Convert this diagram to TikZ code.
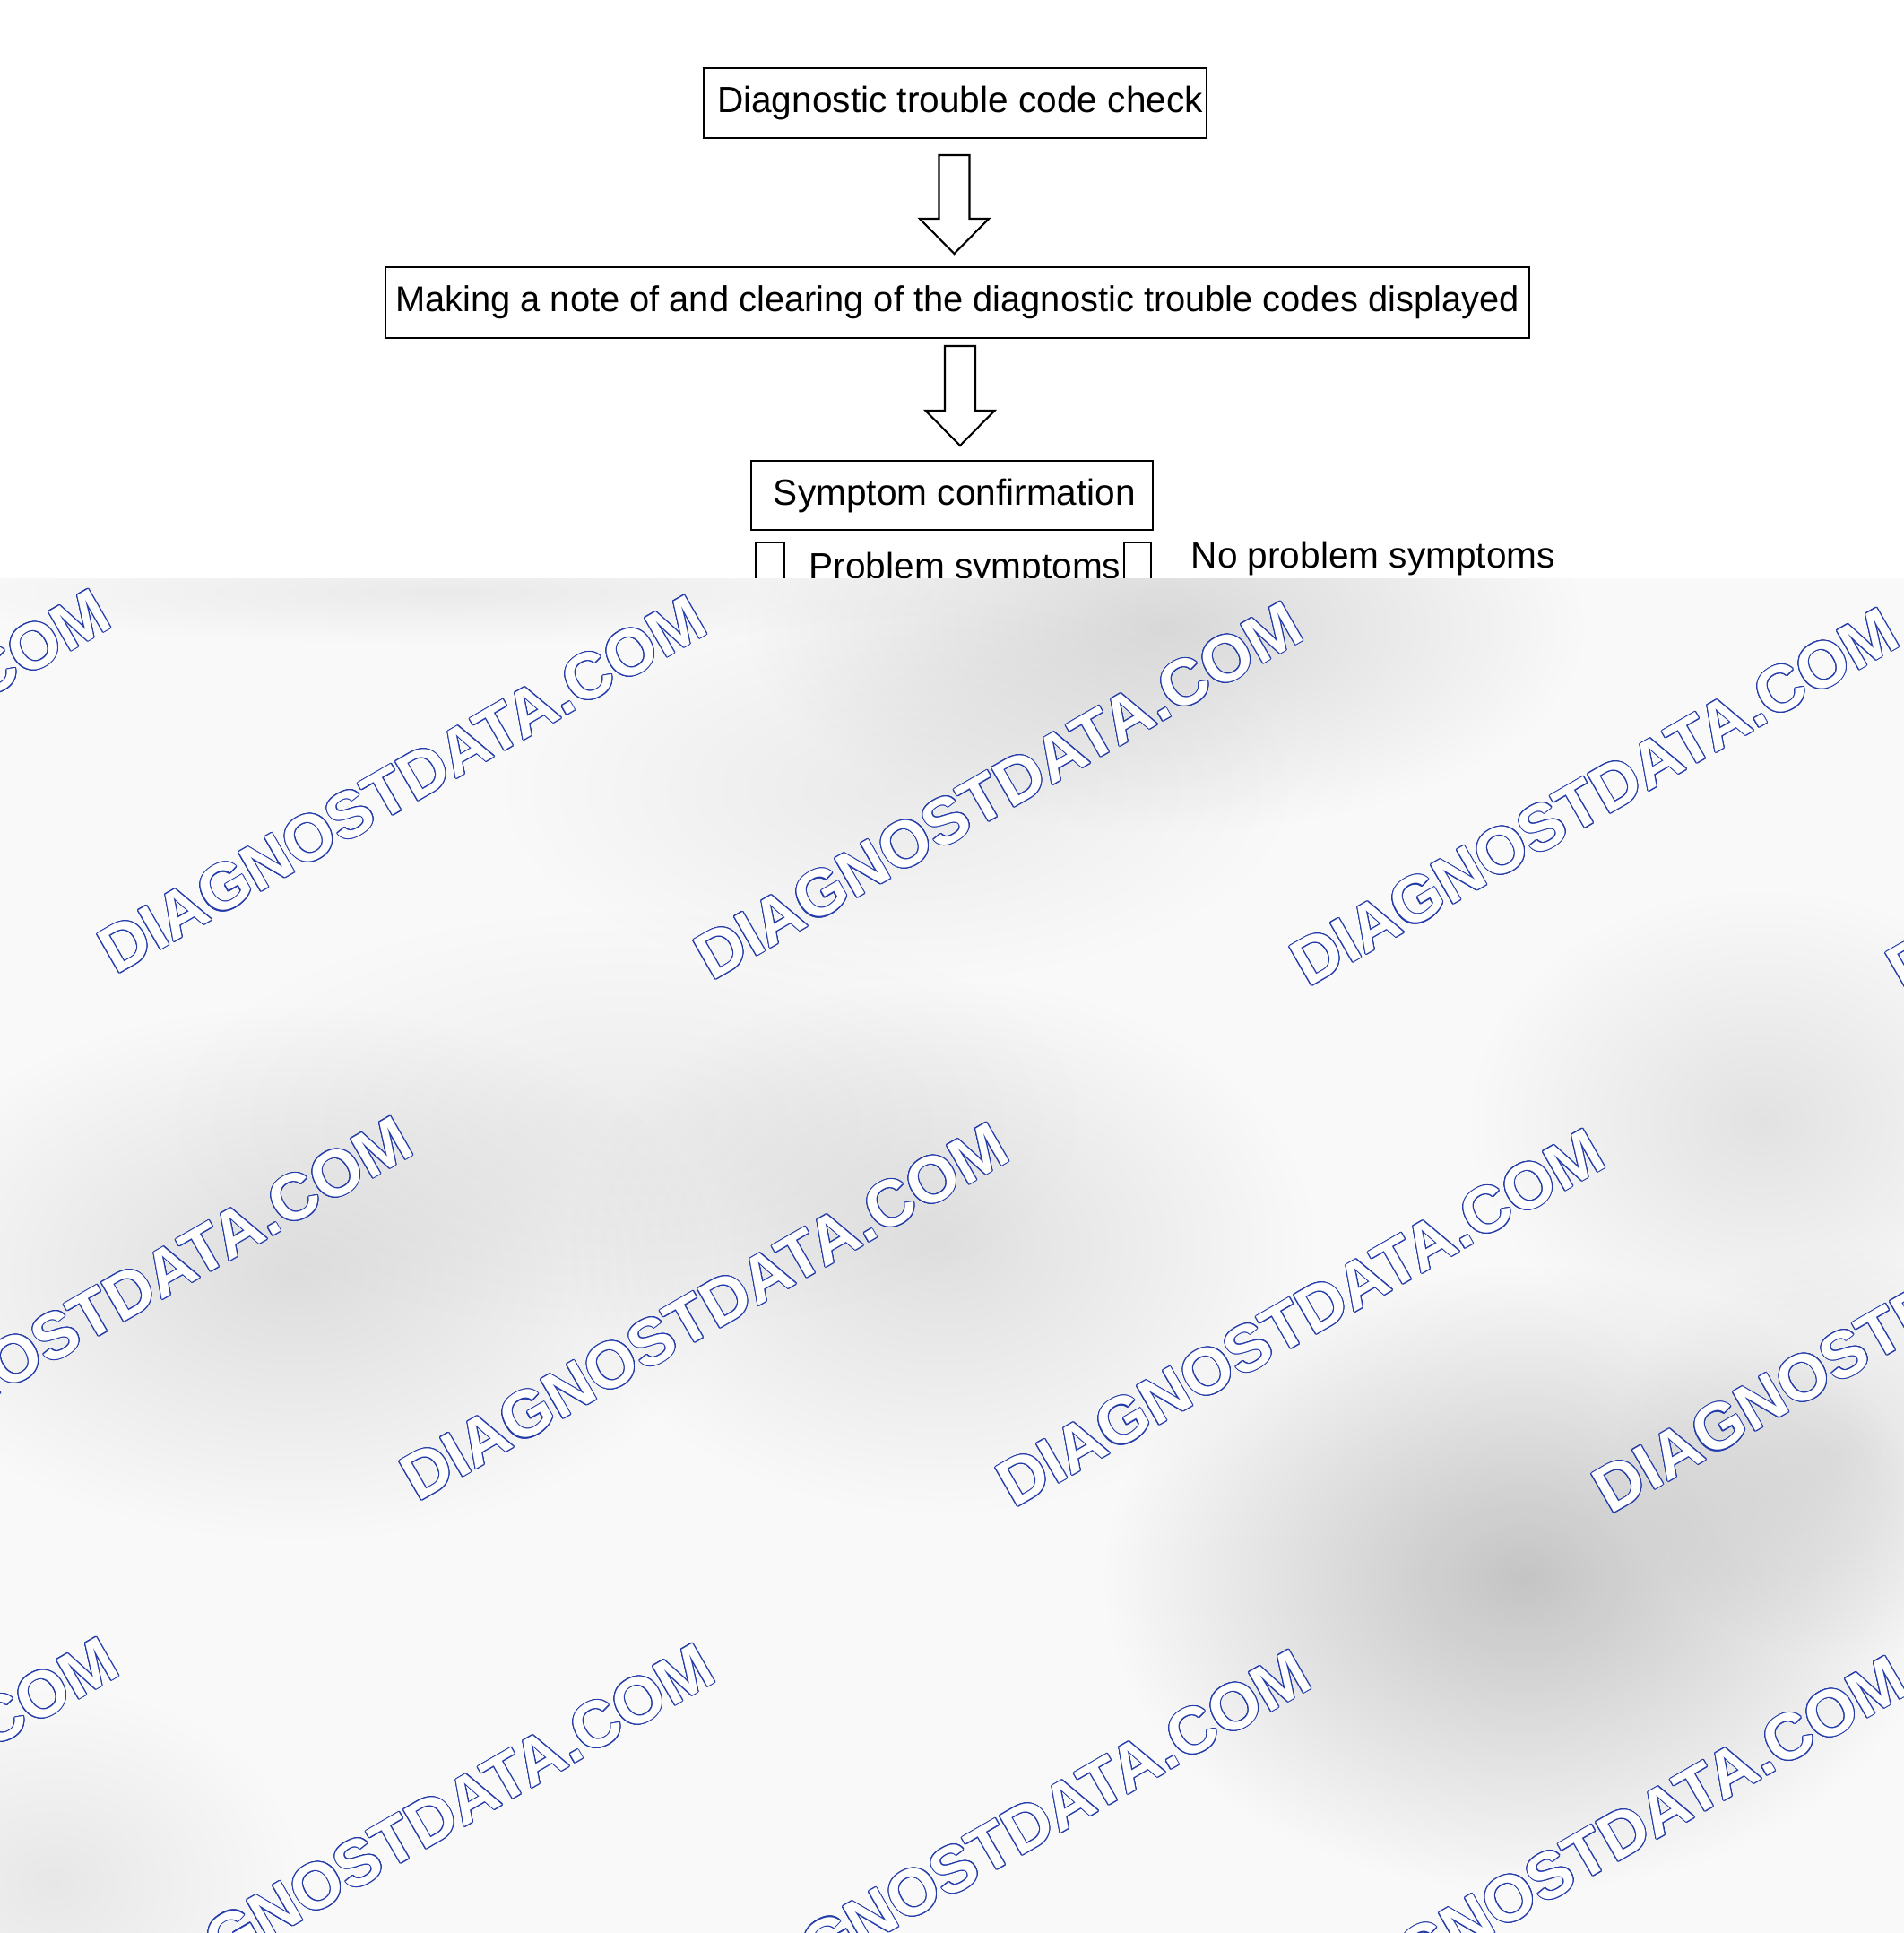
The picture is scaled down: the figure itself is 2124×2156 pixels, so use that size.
\documentclass[tikz,border=0pt]{standalone}
\usepackage{fontspec}
\setmainfont{Liberation Sans}
\usepackage{contour}
\contourlength{0.3pt}
\usetikzlibrary{calc,fadings}

\definecolor{wmblue}{RGB}{36,60,170}
\tikzfading[name=blobfade, inner color=transparent!0, outer color=transparent!100]

\tikzset{
	stepbox/.style={draw=black, line width=0.6pt, inner sep=0pt, font=\fontsize{11.55}{14}\selectfont},
	plaintext/.style={inner sep=0pt, font=\fontsize{11.55}{14}\selectfont},
	arrowbody/.style={draw=black, fill=white, line width=0.6pt},
	wmark/.style={inner sep=0pt, anchor=base west, rotate=30, text=white, font=\fontsize{20.7}{24}\selectfont\bfseries},
	blob/.style={fill=black, path fading=blobfade}
}

\newcommand{\fatarrow}[2]{%
	\draw[arrowbody] let \p1=(#1), \p2=(#2) in
		(\x1-0.17cm,\y1) -- (\x1+0.17cm,\y1) -- (\x1+0.17cm,\y2+0.39cm)
		-- (\x1+0.385cm,\y2+0.39cm) -- (\x1,\y2) -- (\x1-0.385cm,\y2+0.39cm)
		-- (\x1-0.17cm,\y2+0.39cm) -- cycle;}
\newcommand{\wmtext}{\contour{wmblue}{DIAGNOSTDATA.COM}}

\begin{document}
\begin{tikzpicture}[x=0.01cm, y=-0.01cm]
	\useasboundingbox (0,0) rectangle (2124,2156);

	% flow chart
	\node[stepbox, minimum width=5.61cm, minimum height=0.78cm] (dtc) at (1065.5,115) {\hspace*{0.11cm}Diagnostic trouble code check};
	\node[stepbox, minimum width=12.76cm, minimum height=0.79cm, font=\fontsize{11.33}{14}\selectfont] (clear) at (1068,337.5) {Making a note of and clearing of the diagnostic trouble codes displayed};
	\node[stepbox, minimum width=4.48cm, minimum height=0.77cm] (symp) at (1062,552.5) {\hspace*{0.06cm}Symptom confirmation};

	\coordinate (a1top) at (1064.5,173);
	\coordinate (a1tip) at (1064.5,283);
	\coordinate (a2top) at (1071,386);
	\coordinate (a2tip) at (1071,497);
	\fatarrow{a1top}{a1tip}
	\fatarrow{a2top}{a2tip}

	\node[draw=black, line width=0.6pt, inner sep=0pt, minimum width=0.315cm, minimum height=1cm, anchor=north west] (shaftl) at (842,603.5) {};
	\node[draw=black, line width=0.6pt, inner sep=0pt, minimum width=0.295cm, minimum height=1cm, anchor=north west] (shaftr) at (1253,603.5) {};
	\node[plaintext, anchor=base west] (prob) at (902,645) {Problem symptoms};
	\node[plaintext, anchor=base west] (noprob) at (1328,633) {No problem symptoms};

	% grey cover with watermarks
	\begin{scope}
		\clip (0,645) rectangle (2124,2156);
		\fill[black!2.5] (0,645) rectangle (2124,2156);
		\fill[blob, opacity=0.06] (500,660) ellipse (600 and 60);
		\fill[blob, opacity=0.13] (1300,700) ellipse (470 and 230);
		\fill[blob, opacity=0.06] (1000,880) ellipse (450 and 220);
		\fill[blob, opacity=0.11] (330,1420) ellipse (480 and 300);
		\fill[blob, opacity=0.10] (1050,1390) ellipse (420 and 300);
		\fill[blob, opacity=0.05] (700,1250) ellipse (520 and 240);
		\fill[blob, opacity=0.09] (1965,1250) ellipse (330 and 260);
		\fill[blob, opacity=0.21] (1700,1760) ellipse (470 and 350);
		\fill[blob, opacity=0.09] (2050,1620) ellipse (250 and 230);
		\fill[blob, opacity=0.07] (60,2100) ellipse (280 and 220);

		\node[wmark] (wm01) at (-536,1081) {\wmtext};
		\node[wmark] (wm02) at (129,1088) {\wmtext};
		\node[wmark] (wm03) at (794,1095) {\wmtext};
		\node[wmark] (wm04) at (1459,1102) {\wmtext};
		\node[wmark] (wm05) at (2124,1109) {\wmtext};
		\node[wmark] (wm06) at (-199,1669) {\wmtext};
		\node[wmark] (wm07) at (466,1676) {\wmtext};
		\node[wmark] (wm08) at (1131,1683) {\wmtext};
		\node[wmark] (wm09) at (1796,1690) {\wmtext};
		\node[wmark] (wm10) at (-527,2250) {\wmtext};
		\node[wmark] (wm11) at (138,2257) {\wmtext};
		\node[wmark] (wm12) at (803,2264) {\wmtext};
		\node[wmark] (wm13) at (1468,2271) {\wmtext};
	\end{scope}
\end{tikzpicture}
\end{document}
